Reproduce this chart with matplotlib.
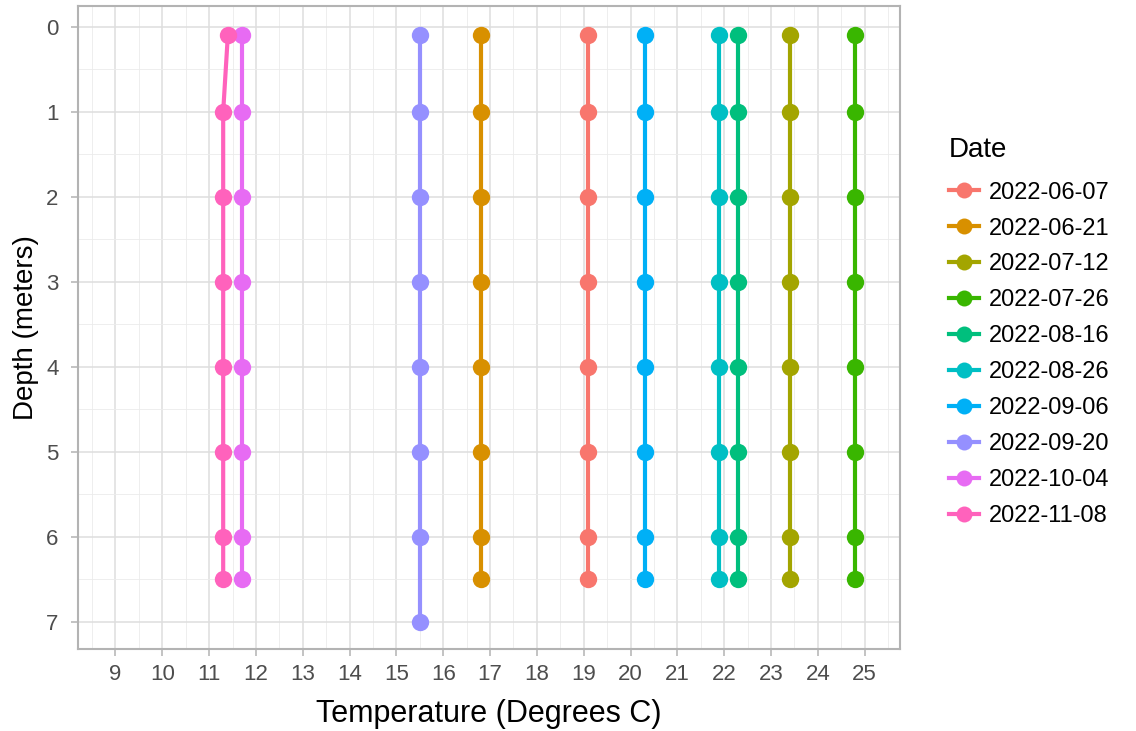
import matplotlib.pyplot as plt
from matplotlib.lines import Line2D

plt.rcParams['font.family'] = ['Liberation Sans', 'DejaVu Sans']

dates = ['2022-06-07', '2022-06-21', '2022-07-12', '2022-07-26', '2022-08-16',
         '2022-08-26', '2022-09-06', '2022-09-20', '2022-10-04', '2022-11-08']
colors = ['#F8766D', '#D89000', '#A3A500', '#39B600', '#00BF7D',
          '#00BFC4', '#00B0F6', '#9590FF', '#E76BF3', '#FF62BC']

depth_std = [0.1, 1, 2, 3, 4, 5, 6, 6.5]
depth_0920 = [0.1, 1, 2, 3, 4, 5, 6, 7]

temp_0607 = [19.1] * 8
temp_0621 = [16.8] * 8
temp_0712 = [23.4] * 8
temp_0726 = [24.8] * 8
temp_0816 = [22.3] * 8
temp_0826 = [21.9] * 8
temp_0906 = [20.3] * 8
temp_0920 = [15.5] * 8
temp_1004 = [11.7] * 8
temp_1108 = [11.4, 11.3, 11.3, 11.3, 11.3, 11.3, 11.3, 11.3]

temps = [temp_0607, temp_0621, temp_0712, temp_0726, temp_0816,
         temp_0826, temp_0906, temp_0920, temp_1004, temp_1108]
depths = [depth_std] * 7 + [depth_0920] + [depth_std] * 2

fig = plt.figure(figsize=(11.36, 7.31), dpi=100)
ax = fig.add_axes([0.0687, 0.1122, 0.7233, 0.8800])

# lines first, then points (like ggplot layers)
for t, d, c in zip(temps, depths, colors):
    ax.plot(t, d, color=c, lw=3, solid_capstyle='butt', zorder=3)
for t, d, c in zip(temps, depths, colors):
    ax.plot(t, d, 'o', color=c, ms=12.5, mec='none', zorder=4)

ax.set_xticks(range(9, 26))
ax.set_xticks([x + 0.5 for x in range(8, 26)], minor=True)
ax.set_yticks(range(0, 8))
ax.set_yticks([y + 0.5 for y in range(-1, 8)], minor=True)
ax.set_xlim(8.2, 25.75)
ax.set_ylim(7.32, -0.245)

ax.grid(which='major', color='#DEDEDE', lw=1.1)
ax.grid(which='minor', color='#EBEBEB', lw=0.6)
ax.set_axisbelow(True)
for s in ax.spines.values():
    s.set_color('#B3B3B3')
    s.set_linewidth(1.5)
ax.tick_params(which='major', length=5, color='#B3B3B3', labelsize=16,
               labelcolor='#4D4D4D', width=1.1)
ax.tick_params(axis='x', pad=6)
ax.tick_params(axis='y', pad=9)
ax.tick_params(which='minor', length=0)

ax.set_xlabel('Temperature (Degrees C)', fontsize=22, labelpad=10)
ax.set_ylabel('Depth (meters)', fontsize=20, labelpad=5)

handles = [Line2D([], [], color=c, lw=3, marker='o', ms=11.5, mec='none')
           for c in colors]
leg = fig.legend(handles, dates, title='Date', loc='upper left',
                 bbox_to_anchor=(0.835, 0.813), frameon=False, fontsize=17,
                 title_fontsize=20, handlelength=1.3, labelspacing=0.59,
                 handletextpad=0.4, borderpad=0, borderaxespad=0)
leg._legend_box.align = 'left'
leg._legend_box.sep = 13.6  # a bit more room under the title

fig.savefig('out.png', dpi=100)
